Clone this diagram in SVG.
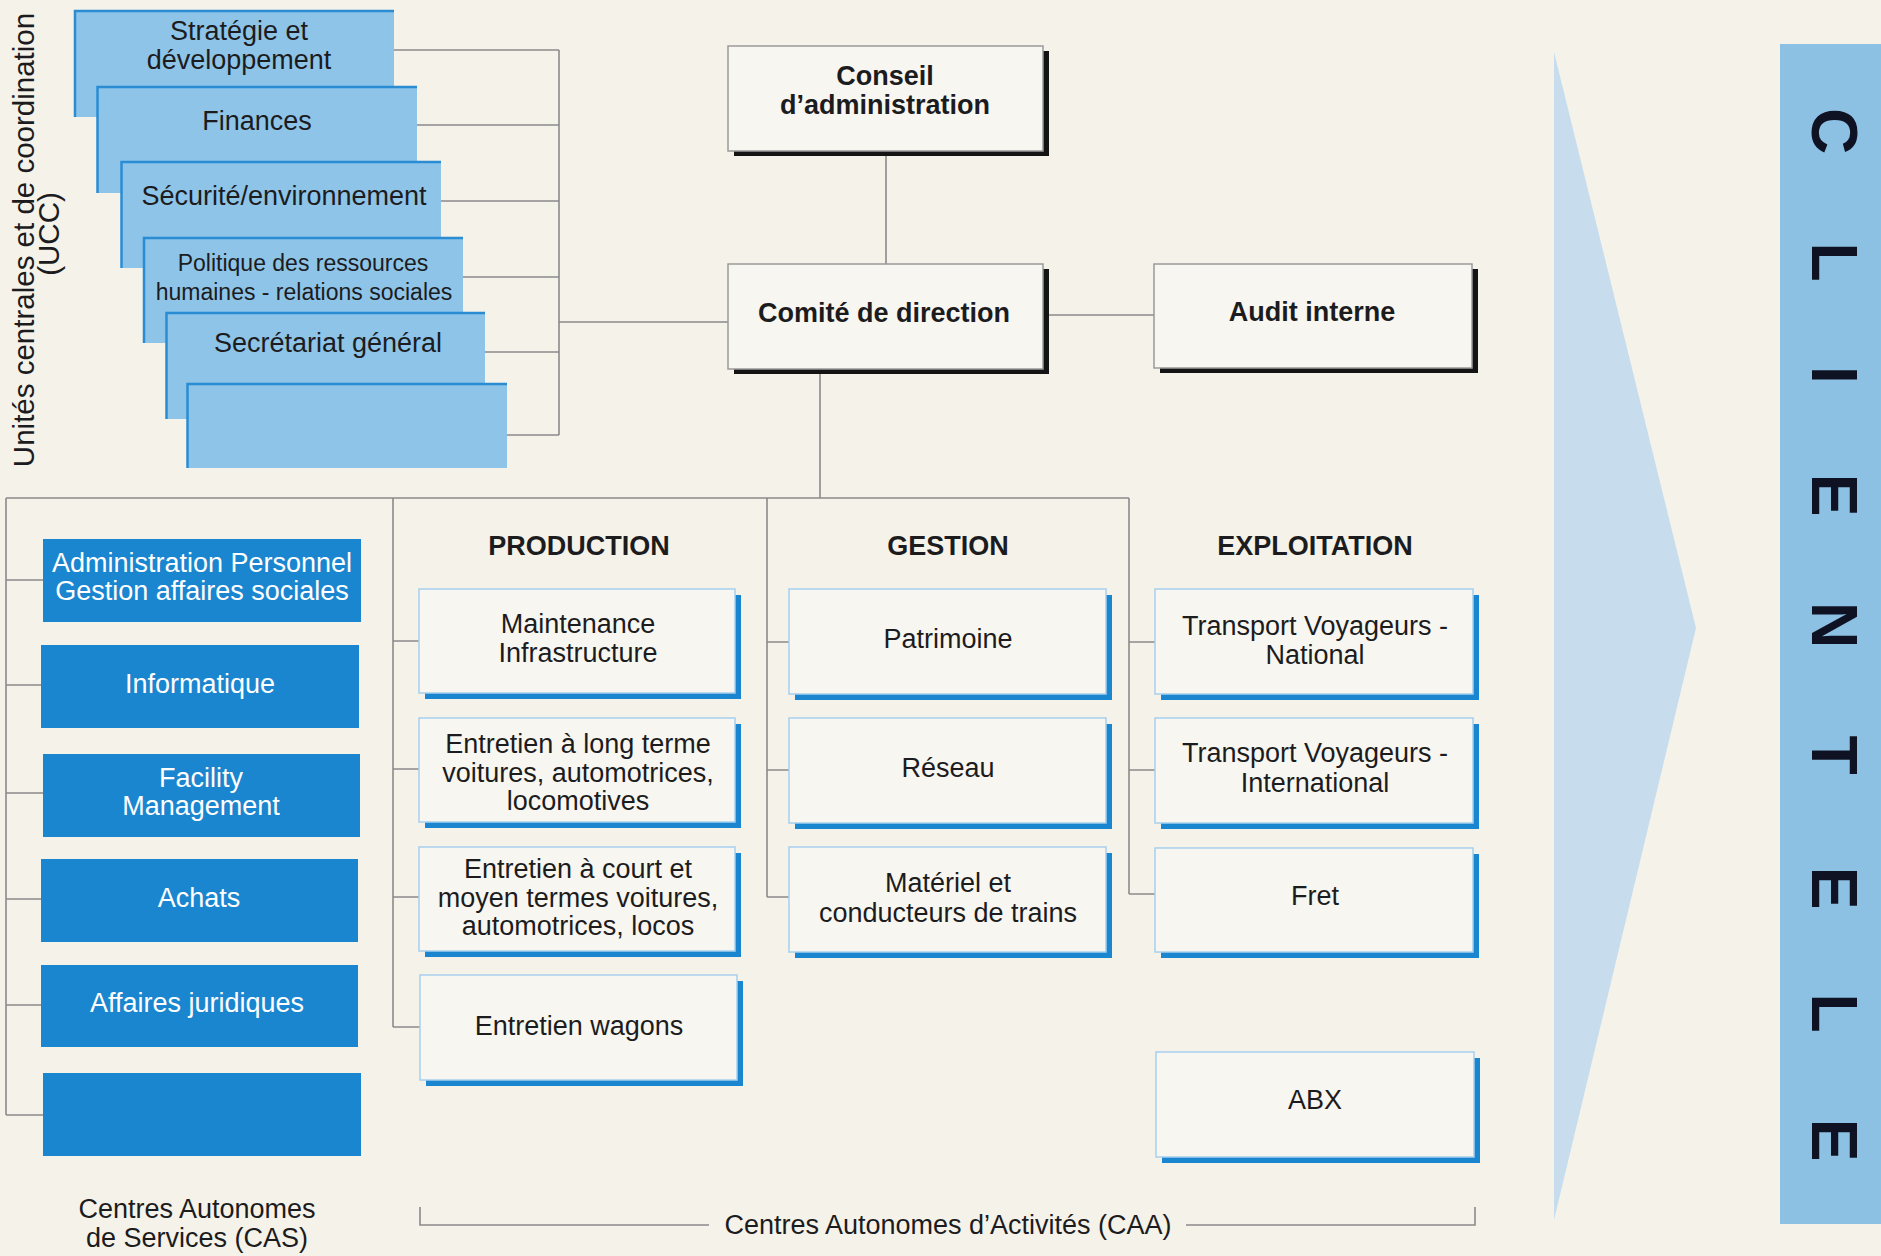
<svg xmlns="http://www.w3.org/2000/svg" width="1881" height="1256" viewBox="0 0 1881 1256">
<style>
.t{font-family:"Liberation Sans",Arial,sans-serif;font-size:27px;fill:#1c1c1e;text-anchor:middle}
.b{font-weight:bold}
.w{fill:#ffffff}
.s{font-size:23px}
.ub{fill:#8ec4e8}
.ue{fill:none;stroke:#2a8cd3;stroke-width:2.5}
.cas{fill:#1a86d0}
.bx{fill:#f8f6f0;stroke:#a6d0ee;stroke-width:1.5}
.sh{fill:#1a86d0}
.kb{fill:#f8f6f0;stroke:#9a9a9a;stroke-width:1.5}
.ks{fill:#141414}
.ln{fill:none;stroke:#8a8a8a;stroke-width:1.6}
.cl{font-family:"Liberation Sans",Arial,sans-serif;font-size:64px;font-weight:bold;fill:#0f1222;text-anchor:middle}
</style>
<rect x="0" y="0" width="1881" height="1256" fill="#f5f2e9"/>

<!-- CLIENTELE arrow and panel -->
<polygon id="arrow" points="1554,52 1696,628 1554,1220" fill="#c7ddee"/>
<g id="clientele">
<rect x="1780" y="44" width="101" height="1180" fill="#8dc1e4"/>
<text class="cl" transform="translate(1812,0) rotate(90)" x="131 262 375 495 625 755 888 1013 1140" y="0">CLIENTELE</text>
</g>

<!-- UCC label -->
<g id="ucc-label">
<text class="t" style="font-size:29.5px" transform="translate(34,240) rotate(-90)" x="0" y="0">Unités centrales et de coordination</text>
<text class="t" style="font-size:29.5px" transform="translate(59,234) rotate(-90)" x="0" y="0">(UCC)</text>
</g>

<!-- connectors -->
<g id="connectors">
<path class="ln" d="M394,50 H559 M417,125 H559 M441,201 H559 M463,277 H559 M485,352 H559 M507,435 H559 M559,50 V435 M559,322 H728"/>
<path class="ln" d="M886,151 V264 M1049,315 H1154 M820,374 V498 M6,498 H1129"/>
<path class="ln" d="M6,498 V1115 M6,580 H43 M6,685 H41 M6,793 H43 M6,899 H41 M6,1005 H41 M6,1115 H43"/>
<path class="ln" d="M393,498 V1027 M393,641 H419 M393,769 H419 M393,897 H419 M393,1027 H420"/>
<path class="ln" d="M767,498 V897 M767,642 H789 M767,770 H789 M767,897 H789"/>
<path class="ln" d="M1129,498 V894 M1129,642 H1155 M1129,770 H1155 M1129,894 H1155"/>
<path class="ln" d="M420,1207 V1225 H709 M1186,1225 H1475 V1207"/>
</g>

<!-- UCC boxes -->
<g id="ucc-strategie">
<rect class="ub" x="75" y="11" width="319" height="106"/>
<path class="ue" d="M75,117 V11 H394"/>
<text class="t" x="239" y="40">Stratégie et</text>
<text class="t" x="239" y="69">développement</text>
</g>
<g id="ucc-finances">
<rect class="ub" x="97.5" y="87" width="319.5" height="106"/>
<path class="ue" d="M97.5,193 V87 H417"/>
<text class="t" x="257" y="130">Finances</text>
</g>
<g id="ucc-securite">
<rect class="ub" x="121.5" y="162" width="319.5" height="106"/>
<path class="ue" d="M121.5,268 V162 H441"/>
<text class="t" x="284" y="205">Sécurité/environnement</text>
</g>
<g id="ucc-politique">
<rect class="ub" x="144" y="238" width="319" height="105"/>
<path class="ue" d="M144,343 V238 H463"/>
<text class="t s" x="303" y="271">Politique des ressources</text>
<text class="t s" x="304" y="300">humaines - relations sociales</text>
</g>
<g id="ucc-secretariat">
<rect class="ub" x="166.5" y="313" width="318.5" height="106"/>
<path class="ue" d="M166.5,419 V313 H485"/>
<text class="t" x="328" y="352">Secrétariat général</text>
</g>
<g id="ucc-empty">
<rect class="ub" x="187.5" y="384" width="319.5" height="84"/>
<path class="ue" d="M187.5,468 V384 H507"/>
</g>

<!-- Direction -->
<g id="conseil">
<rect class="ks" x="734" y="51" width="315" height="105"/>
<rect class="kb" x="728" y="46" width="315" height="105"/>
<text class="t b" x="885" y="85">Conseil</text>
<text class="t b" x="885" y="114">d’administration</text>
</g>
<g id="comite">
<rect class="ks" x="734" y="269" width="315" height="105"/>
<rect class="kb" x="728" y="264" width="315" height="105"/>
<text class="t b" x="884" y="322">Comité de direction</text>
</g>
<g id="audit">
<rect class="ks" x="1160" y="269" width="318" height="104"/>
<rect class="kb" x="1154" y="264" width="318" height="104"/>
<text class="t b" x="1312" y="321">Audit interne</text>
</g>

<!-- CAS boxes -->
<g id="cas-admin">
<rect class="cas" x="43" y="539" width="318" height="83"/>
<text class="t w" x="202" y="571.5">Administration Personnel</text>
<text class="t w" x="202" y="599.5">Gestion affaires sociales</text>
</g>
<g id="cas-informatique">
<rect class="cas" x="41" y="645" width="318" height="83"/>
<text class="t w" x="200" y="692.5">Informatique</text>
</g>
<g id="cas-facility">
<rect class="cas" x="43" y="754" width="317" height="83"/>
<text class="t w" x="201" y="786.5">Facility</text>
<text class="t w" x="201" y="814.5">Management</text>
</g>
<g id="cas-achats">
<rect class="cas" x="41" y="859" width="317" height="83"/>
<text class="t w" x="199" y="906.5">Achats</text>
</g>
<g id="cas-juridiques">
<rect class="cas" x="41" y="965" width="317" height="82"/>
<text class="t w" x="197" y="1011.5">Affaires juridiques</text>
</g>
<g id="cas-empty">
<rect class="cas" x="43" y="1073" width="318" height="83"/>
</g>
<g id="cas-label">
<text class="t" x="197" y="1217.5">Centres Autonomes</text>
<text class="t" x="197" y="1246.5">de Services (CAS)</text>
</g>

<!-- Headers -->
<text id="h-production" class="t b" x="579" y="555">PRODUCTION</text>
<text id="h-gestion" class="t b" x="948" y="555">GESTION</text>
<text id="h-exploitation" class="t b" x="1315" y="555">EXPLOITATION</text>

<!-- PRODUCTION -->
<g id="p-maintenance">
<rect class="sh" x="425" y="595" width="316" height="104"/>
<rect class="bx" x="419" y="589" width="316" height="104"/>
<text class="t" x="578" y="632.5">Maintenance</text>
<text class="t" x="578" y="661.5">Infrastructure</text>
</g>
<g id="p-long">
<rect class="sh" x="425" y="724" width="316" height="104"/>
<rect class="bx" x="419" y="718" width="316" height="104"/>
<text class="t" x="578" y="752.5">Entretien à long terme</text>
<text class="t" x="578" y="781.5">voitures, automotrices,</text>
<text class="t" x="578" y="809.5">locomotives</text>
</g>
<g id="p-court">
<rect class="sh" x="425" y="853" width="316" height="104"/>
<rect class="bx" x="419" y="847" width="316" height="104"/>
<text class="t" x="578" y="877.5">Entretien à court et</text>
<text class="t" x="578" y="906.5">moyen termes voitures,</text>
<text class="t" x="578" y="934.5">automotrices, locos</text>
</g>
<g id="p-wagons">
<rect class="sh" x="426" y="981" width="317" height="105"/>
<rect class="bx" x="420" y="975" width="317" height="105"/>
<text class="t" x="579" y="1034.5">Entretien wagons</text>
</g>

<!-- GESTION -->
<g id="g-patrimoine">
<rect class="sh" x="795" y="595" width="317" height="105"/>
<rect class="bx" x="789" y="589" width="317" height="105"/>
<text class="t" x="948" y="647.5">Patrimoine</text>
</g>
<g id="g-reseau">
<rect class="sh" x="795" y="724" width="317" height="105"/>
<rect class="bx" x="789" y="718" width="317" height="105"/>
<text class="t" x="948" y="776.5">Réseau</text>
</g>
<g id="g-materiel">
<rect class="sh" x="795" y="853" width="317" height="105"/>
<rect class="bx" x="789" y="847" width="317" height="105"/>
<text class="t" x="948" y="891.5">Matériel et</text>
<text class="t" x="948" y="921.5">conducteurs de trains</text>
</g>

<!-- EXPLOITATION -->
<g id="e-national">
<rect class="sh" x="1161" y="595" width="318" height="105"/>
<rect class="bx" x="1155" y="589" width="318" height="105"/>
<text class="t" x="1315" y="634.5">Transport Voyageurs -</text>
<text class="t" x="1315" y="663.5">National</text>
</g>
<g id="e-international">
<rect class="sh" x="1161" y="724" width="318" height="105"/>
<rect class="bx" x="1155" y="718" width="318" height="105"/>
<text class="t" x="1315" y="761.5">Transport Voyageurs -</text>
<text class="t" x="1315" y="791.5">International</text>
</g>
<g id="e-fret">
<rect class="sh" x="1161" y="854" width="318" height="104"/>
<rect class="bx" x="1155" y="848" width="318" height="104"/>
<text class="t" x="1315" y="904.5">Fret</text>
</g>
<g id="e-abx">
<rect class="sh" x="1162" y="1058" width="318" height="105"/>
<rect class="bx" x="1156" y="1052" width="318" height="105"/>
<text class="t" x="1315" y="1108.5">ABX</text>
</g>

<text id="caa-label" class="t" x="948" y="1234">Centres Autonomes d’Activités (CAA)</text>
</svg>
